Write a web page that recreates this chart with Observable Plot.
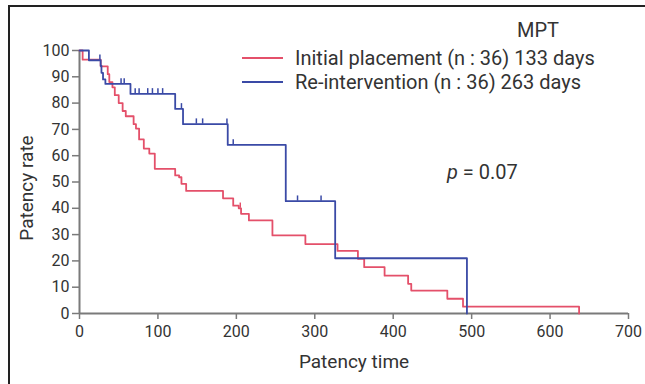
<!DOCTYPE html>
<html><head><meta charset="utf-8">
<script src="https://cdn.jsdelivr.net/npm/d3@7"></script>
<script src="https://cdn.jsdelivr.net/npm/@observablehq/plot@0.6"></script>
<style>body{margin:0;background:#fff}#chart{width:645px;height:384px}</style>
</head><body><div id="chart"></div>
<script>
const seriesNames = ["Initial placement (n : 36) 133 days", "Re-intervention (n : 36) 263 days"];
const seriesColors = ["#e4506a", "#3a4aa6"];
const initialTimes = [0, 4, 27, 36, 38, 42, 45, 50, 55, 59, 69, 72, 76, 82, 89, 96, 122, 127, 130, 136, 183, 196, 203, 206, 216, 246, 288, 329, 355, 363, 389, 419, 423, 469, 489, 637];
const initialRates = [100, 96.5, 94, 91, 88, 86, 83, 80, 77, 75, 72, 70.3, 66.2, 62.7, 60.8, 55, 52.5, 51.8, 49.3, 46.6, 43.8, 41, 40, 37.9, 35.4, 29.7, 26.4, 23.8, 20.8, 17.6, 14.4, 11.3, 8.7, 5.6, 2.6, 0];
const reTimes = [0, 12, 27, 28, 30, 33, 65, 122, 132, 189, 263, 326, 494];
const reRates = [100, 96.3, 94.2, 91.5, 89, 87.3, 83.5, 77.8, 72, 64.1, 42.7, 21, 0];
const initialCensor = [205];
const reCensor = [26, 53, 57, 71, 76, 87, 93, 100, 106, 130, 149, 157, 188, 196, 278, 308];
const xTicks = [0, 100, 200, 300, 400, 500, 600, 700];
const yTicks = [0, 10, 20, 30, 40, 50, 60, 70, 80, 90, 100];
const xLabel = "Patency time";
const yLabel = "Patency rate";
const legendTitle = "MPT";
const pValue = "0.07";

function rateAt(times, rates, t) {
  let r = rates[0];
  for (let i = 0; i < times.length; i++) if (times[i] <= t) r = rates[i];
  return r;
}
const curves = [
  ...initialTimes.map((t, i) => ({series: seriesNames[0], t, r: initialRates[i]})),
  ...reTimes.map((t, i) => ({series: seriesNames[1], t, r: reRates[i]}))
];
const censors = [
  ...initialCensor.map(t => ({series: seriesNames[0], t, r: rateAt(initialTimes, initialRates, t)})),
  ...reCensor.map(t => ({series: seriesNames[1], t, r: rateAt(reTimes, reRates, t)}))
];

const font = "Roboto, 'Open Sans', sans-serif";
const axisGrey = "#7a7a7a";
const plot = Plot.plot({
  width: 645, height: 384,
  marginLeft: 79, marginRight: 17, marginTop: 50, marginBottom: 71,
  x: {domain: [0, 700]},
  y: {domain: [0, 100]},
  color: {domain: seriesNames, range: seriesColors},
  style: {fontFamily: font, fontSize: "16px", color: "#333", background: "white"},
  marks: [
    Plot.axisX({ticks: xTicks, tickSize: 6, tickPadding: 6, label: null, stroke: axisGrey, strokeWidth: 1.5, fill: "#333", fontSize: 16}),
    Plot.axisY({ticks: yTicks, tickSize: 7, tickPadding: 3, label: null, stroke: axisGrey, strokeWidth: 1.5, fill: "#333", fontSize: 16}),
    Plot.ruleY([0], {stroke: axisGrey, strokeWidth: 2}),
    Plot.ruleX([0], {stroke: axisGrey, strokeWidth: 2}),
    Plot.line(curves, {x: "t", y: "r", z: "series", stroke: "series", curve: "step-after", strokeWidth: 1.8}),
    Plot.ruleX(censors, {x: "t", y1: "r", y2: d => d.r + 2, stroke: "series", strokeWidth: 1.5}),
    Plot.text([xLabel], {text: d => d, frameAnchor: "bottom", dy: 54, fontSize: 19, fill: "#333"}),
    Plot.text([yLabel], {text: d => d, frameAnchor: "left", textAnchor: "middle", dx: -53, dy: 6, rotate: -90, fontSize: 19, fill: "#333"})
  ]
});
document.getElementById("chart").appendChild(plot);

const svg = d3.select(plot);
svg.append("path").attr("d", "M9,384V6H645").attr("fill", "none").attr("stroke", "#222").attr("stroke-width", 2);
const textStyle = sel => sel.style("font-family", font).style("font-size", "20px").style("fill", "#333").style("text-anchor", "start");
textStyle(svg.append("text").attr("x", 517).attr("y", 37)).text(legendTitle);
seriesNames.forEach((name, i) => {
  const y = 58 + i * 24;
  svg.append("line").attr("x1", 242).attr("x2", 283).attr("y1", y).attr("y2", y).attr("stroke", seriesColors[i]).attr("stroke-width", 2);
  textStyle(svg.append("text").attr("x", 295).attr("y", y).attr("dy", "0.35em")).text(name);
});
const pt = textStyle(svg.append("text").attr("x", 447).attr("y", 179));
pt.append("tspan").style("font-style", "italic").text("p");
pt.append("tspan").text(" = " + pValue);
</script></body></html>
